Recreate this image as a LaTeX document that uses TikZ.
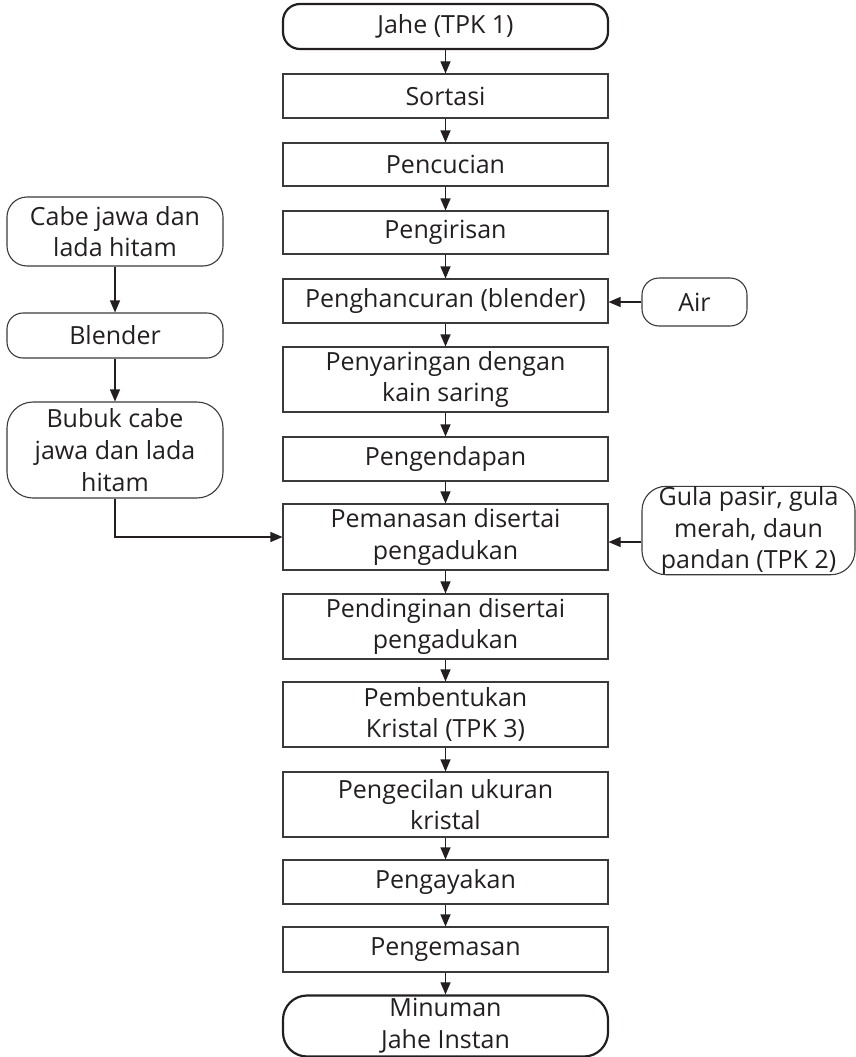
\documentclass[tikz,border=0pt]{standalone}
\usepackage{fontspec}
\setmainfont{Open Sans}
\usetikzlibrary{arrows.meta,calc}
\definecolor{ink}{HTML}{231F20}
\definecolor{edge}{HTML}{3A3A3A}
\begin{document}
\begin{tikzpicture}[x=1pt,y=-1pt,
  every node/.style={inner sep=0pt,align=center,text=ink,font=\fontsize{25}{31.7}\selectfont},
  proc/.style={draw=edge,line width=1.1pt,minimum width=325pt},
  term/.style={draw=ink,line width=2.2pt,rounded corners=17pt,minimum width=325pt},
  side/.style={draw=edge,line width=1.1pt,rounded corners=20pt},
  arr/.style={draw=ink,line width=1.1pt,-{Triangle[length=12pt,width=10pt]}}]
\useasboundingbox (0,0) rectangle (856,1057);
% main column
\node[term,minimum height=45pt] (jahe) at (445.5,26.5) {Jahe (TPK 1)};
\node[proc,minimum height=44pt] (sort) at (445.5,96) {Sortasi};
\node[proc,minimum height=43pt] (cuci) at (445.5,164.5) {Pencucian};
\node[proc,minimum height=43pt] (iris) at (445.5,232.5) {Pengirisan};
\node[proc,minimum height=44pt] (hanc) at (445.5,301) {Penghancuran (blender)};
\node[proc,minimum height=65pt] (sari) at (445.5,379.5) {Penyaringan dengan\\kain saring};
\node[proc,minimum height=44pt] (endap) at (445.5,459) {Pengendapan};
\node[proc,minimum height=66pt] (panas) at (445.5,537) {Pemanasan disertai\\pengadukan};
\node[proc,minimum height=65pt] (dingin) at (445.5,626.5) {Pendinginan disertai\\pengadukan};
\node[proc,minimum height=65pt] (bentuk) at (445.5,714.5) {Pembentukan\\Kristal (TPK 3)};
\node[proc,minimum height=65pt] (kecil) at (445.5,804.5) {Pengecilan ukuran\\kristal};
\node[proc,minimum height=44pt] (ayak) at (445.5,882) {Pengayakan};
\node[proc,minimum height=45pt] (kemas) at (445.5,949.5) {Pengemasan};
\node[term,minimum height=61pt,rounded corners=24pt] (minum) at (445.5,1026) {Minuman\\Jahe Instan};
% left column
\node[side,minimum width=216pt,minimum height=69pt] (cabe) at (115,231.5) {Cabe jawa dan\\lada hitam};
\node[side,minimum width=216pt,minimum height=45pt,rounded corners=16pt] (blend) at (115,335.5) {Blender};
\node[side,minimum width=216pt,minimum height=96pt,rounded corners=26pt] (bubuk) at (115,450) {Bubuk cabe\\jawa dan lada\\hitam};
% right column
\node[side,minimum width=105pt,minimum height=48pt,rounded corners=17pt] (air) at (694.5,302) {Air};
\node[side,minimum width=213pt,minimum height=79pt,rounded corners=24pt] (gula) at (748.5,530.5) {Gula pasir, gula\\merah, daun\\pandan (TPK 2)};
% connectors
\draw[arr] (jahe) -- (sort);
\draw[arr] (sort) -- (cuci);
\draw[arr] (cuci) -- (iris);
\draw[arr] (iris) -- (hanc);
\draw[arr] (hanc) -- (sari);
\draw[arr] (sari) -- (endap);
\draw[arr] (endap) -- (panas);
\draw[arr] (panas) -- (dingin);
\draw[arr] (dingin) -- (bentuk);
\draw[arr] (bentuk) -- (kecil);
\draw[arr] (kecil) -- (ayak);
\draw[arr] (ayak) -- (kemas);
\draw[arr] (kemas) -- (minum);
\draw[arr] (cabe) -- (blend);
\draw[arr] (blend) -- (bubuk);
\draw[arr] (bubuk.south) |- (panas.west);
\draw[arr] (air.west) -- (hanc.east |- air.west);
\coordinate (gin) at ($(gula.west)+(0,11.5)$);
\draw[arr] (gin) -- (panas.east |- gin);
\end{tikzpicture}
\end{document}
